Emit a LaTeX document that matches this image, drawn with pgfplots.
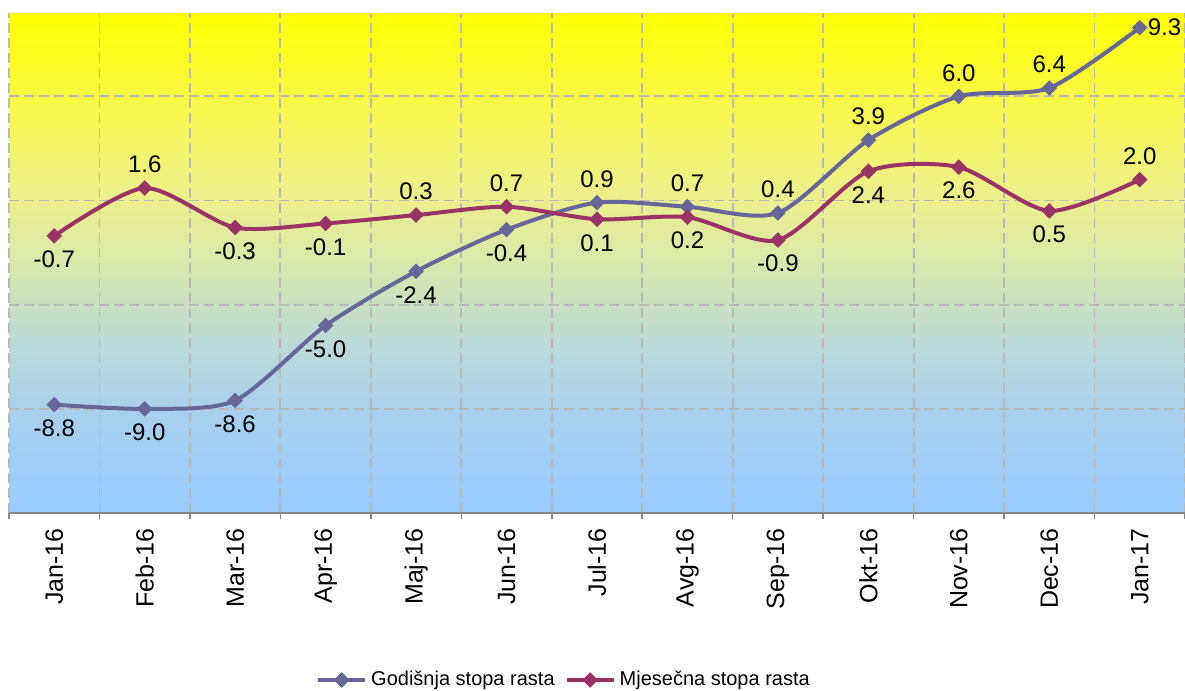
\documentclass[border=0pt]{standalone}
\usepackage{fontspec}
\setmainfont{Liberation Sans}
\usepackage{pgfplots}
\pgfplotsset{compat=1.18}

\definecolor{annual}{RGB}{102,102,153}
\definecolor{monthly}{RGB}{153,51,102}
\definecolor{gridc}{RGB}{185,185,185}
\definecolor{axc}{RGB}{134,134,134}
\definecolor{g0}{RGB}{153,204,255}
\definecolor{g1}{RGB}{168,208,238}
\definecolor{g2}{RGB}{188,218,212}
\definecolor{g3}{RGB}{218,232,172}
\definecolor{g4}{RGB}{238,240,135}
\definecolor{g5}{RGB}{247,247,80}
\definecolor{g6}{RGB}{255,255,0}
\pgfdeclareverticalshading{bgshade}{100bp}{color(0bp)=(g0); color(25bp)=(g0); color(35bp)=(g1); color(42.5bp)=(g2); color(50bp)=(g3); color(57.5bp)=(g4); color(65bp)=(g5); color(75bp)=(g6); color(100bp)=(g6)}

\pgfplotsset{
  lbl/.style={draw=none, mark=none, forget plot, nodes near coords, point meta=explicit symbolic,
    every node near coord/.append style={anchor=#1, inner sep=0pt, outer sep=7.5pt,
      font=\fontsize{12}{14}\selectfont, text=black}},
  ser/.style={#1, line width=2pt, smooth, tension=0.45,
    mark=square*, mark size=2.5pt, mark options={rotate=45, solid, line width=0.5pt}},
}

\begin{document}
\begin{tikzpicture}
\useasboundingbox (0,0) rectangle (592.5pt,345.5pt);
\begin{axis}[
  at={(4.5pt,89pt)}, anchor=south west,
  scale only axis, width=588pt, height=250pt,
  xmin=-0.5, xmax=12.5, ymin=-14, ymax=10,
  clip=false,
  axis background/.style={shading=bgshade},
  axis x line*=bottom, axis y line*=left,
  y axis line style={draw=none},
  x axis line style={draw=axc, line width=0.75pt},
  xtick={0,...,12},
  xticklabels={Jan-16,Feb-16,Mar-16,Apr-16,Maj-16,Jun-16,Jul-16,Avg-16,Sep-16,Okt-16,Nov-16,Dec-16,Jan-17},
  minor xtick={-0.5,0.5,...,12.5},
  xminorgrids=true,
  ytick={-9,-4,1,6}, yticklabels={}, ymajorgrids=true,
  tick align=outside,
  major tick length=0pt,
  minor tick length=3pt,
  minor x tick style={draw=axc, line width=0.75pt},
  minor grid style={draw=gridc, line width=0.9pt, dash pattern=on 5pt off 2.5pt},
  major grid style={draw=gridc, line width=0.9pt, dash pattern=on 5pt off 2.5pt},
  xticklabel style={rotate=90, anchor=east, inner sep=0pt, font=\fontsize{12.5}{15}\selectfont},
  xticklabel shift=7.5pt,
  legend columns=2,
  legend style={at={(0.4728,-0.334)}, anchor=center, draw=none, fill=none,
    font=\fontsize{10}{12}\selectfont, inner sep=0pt,
    nodes={inner xsep=2pt, inner ysep=1pt},
    /tikz/every even column/.append style={column sep=3pt}},
  legend image code/.code={\draw[mark repeat=2,mark phase=2,#1] plot coordinates {(0pt,0pt) (11.75pt,0pt) (23.5pt,0pt)};},
]
% Godisnja stopa rasta
\addplot[ser=annual] table[x=x, y=y]{
x y
0 -8.8
1 -9.0
2 -8.6
3 -5.0
4 -2.4
5 -0.4
6 0.9
7 0.7
8 0.4
9 3.9
10 6.0
11 6.4
12 9.3
};
\addlegendentry{Godišnja stopa rasta}
% Mjesecna stopa rasta
\addplot[ser=monthly] table[x=x, y=y]{
x y
0 -0.7
1 1.6
2 -0.3
3 -0.1
4 0.3
5 0.7
6 0.1
7 0.2
8 -0.9
9 2.4
10 2.6
11 0.5
12 2.0
};
\addlegendentry{Mjesečna stopa rasta}
% data labels
\addplot[lbl=north] coordinates {(0,-8.8) [-8.8] (1,-9.0) [-9.0] (2,-8.6) [-8.6] (3,-5.0) [-5.0] (4,-2.4) [-2.4] (5,-0.4) [-0.4]};
\addplot[lbl=south] coordinates {(6,0.9) [0.9] (7,0.7) [0.7] (8,0.4) [0.4] (9,3.9) [3.9] (10,6.0) [6.0] (11,6.4) [6.4]};
\addplot[lbl=west] coordinates {(12,9.3) [\kern-3.5pt 9.3]};
\addplot[lbl=north] coordinates {(0,-0.7) [-0.7] (2,-0.3) [-0.3] (3,-0.1) [-0.1] (6,0.1) [0.1] (7,0.2) [0.2] (8,-0.9) [-0.9] (9,2.4) [2.4] (10,2.6) [2.6] (11,0.5) [0.5]};
\addplot[lbl=south] coordinates {(1,1.6) [1.6] (4,0.3) [0.3] (5,0.7) [0.7] (12,2.0) [2.0]};
\end{axis}
\end{tikzpicture}
\end{document}
